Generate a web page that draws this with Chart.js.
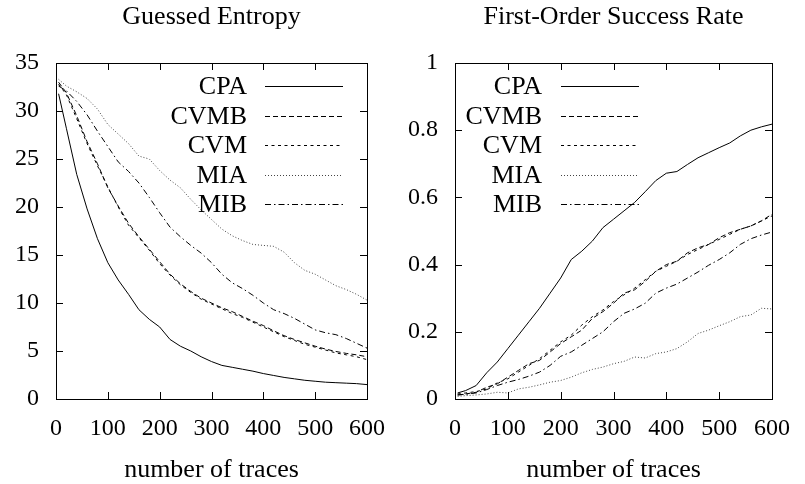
<!DOCTYPE html>
<html>
<head>
<meta charset="utf-8">
<script src="https://cdn.jsdelivr.net/npm/chart.js@4.4.1/dist/chart.umd.min.js"></script>
<style>
body { margin: 0; background: #fff; }
#wrap { position: relative; width: 805px; height: 484px; }
canvas { position: absolute; top: 0; }
</style>
</head>
<body>
<div id="wrap">
  <canvas id="entropyChart" width="400" height="484" style="left:0;width:400px;height:484px"></canvas>
  <canvas id="successChart" width="405" height="484" style="left:400px;width:405px;height:484px"></canvas>
</div>
<script>
// number of traces (x values shared by every curve)
const traces = [5, 20, 40, 60, 80, 100, 120, 140, 160, 180, 200, 220, 240, 260, 280, 300,
                320, 340, 360, 380, 400, 420, 440, 460, 480, 500, 520, 540, 560, 580, 600];

const methods = ['CPA', 'CVMB', 'CVM', 'MIA', 'MIB'];

// Guessed Entropy
const geCPA  = [31.8, 28.2, 23.4, 19.8, 16.7, 14.2, 12.4, 10.9, 9.3, 8.3, 7.5, 6.2, 5.5, 5.0, 4.4, 3.9,
                3.5, 3.3, 3.1, 2.9, 2.65, 2.45, 2.25, 2.1, 1.95, 1.85, 1.75, 1.7, 1.65, 1.6, 1.5];
const geCVMB = [33.0, 31.9, 29.5, 26.8, 24.5, 22.0, 20.1, 18.3, 16.9, 15.6, 14.3, 13.0, 12.0, 11.2, 10.5, 10.0,
                9.5, 9.1, 8.6, 8.1, 7.65, 7.1, 6.6, 6.2, 5.85, 5.5, 5.2, 4.95, 4.75, 4.6, 4.4];
const geCVM  = [32.8, 31.7, 29.2, 26.6, 24.3, 22.1, 20.0, 18.1, 16.8, 15.5, 14.1, 12.9, 11.9, 11.1, 10.4, 9.9,
                9.4, 8.9, 8.5, 8.0, 7.5, 7.0, 6.5, 6.1, 5.7, 5.4, 5.1, 4.8, 4.6, 4.4, 4.1];
const geMIA  = [33.3, 32.6, 32.0, 31.3, 30.2, 28.6, 27.6, 26.6, 25.3, 25.0, 23.8, 22.8, 22.0, 20.8, 19.7, 18.7,
                17.7, 17.0, 16.5, 16.1, 16.0, 15.9, 15.3, 14.2, 13.4, 13.0, 12.4, 11.8, 11.4, 10.9, 10.3];
const geMIB  = [32.6, 32.1, 31.0, 29.6, 27.9, 26.3, 24.7, 23.7, 22.5, 21.0, 19.4, 17.9, 16.9, 16.0, 15.2, 14.2,
                13.0, 12.1, 11.5, 10.8, 10.0, 9.3, 8.9, 8.4, 7.8, 7.2, 6.9, 6.7, 6.3, 5.8, 5.3];

// First-Order Success Rate
const srCPA  = [0.018, 0.025, 0.04, 0.078, 0.11, 0.15, 0.19, 0.23, 0.27, 0.315, 0.36, 0.415, 0.44, 0.47, 0.51, 0.535,
                0.56, 0.585, 0.617, 0.65, 0.672, 0.677, 0.698, 0.718, 0.733, 0.748, 0.762, 0.783, 0.80, 0.81, 0.818];
const srCVMB = [0.012, 0.015, 0.02, 0.035, 0.045, 0.065, 0.085, 0.105, 0.115, 0.14, 0.165, 0.185, 0.205, 0.24, 0.26, 0.285,
                0.315, 0.325, 0.35, 0.38, 0.40, 0.41, 0.435, 0.45, 0.46, 0.48, 0.495, 0.505, 0.515, 0.53, 0.55];
const srCVM  = [0.015, 0.018, 0.022, 0.03, 0.048, 0.06, 0.08, 0.10, 0.12, 0.145, 0.17, 0.19, 0.22, 0.245, 0.265, 0.29,
                0.31, 0.33, 0.355, 0.38, 0.395, 0.41, 0.43, 0.445, 0.46, 0.475, 0.49, 0.505, 0.515, 0.53, 0.545];
const srMIA  = [0.008, 0.01, 0.012, 0.015, 0.02, 0.018, 0.03, 0.035, 0.042, 0.05, 0.055, 0.065, 0.078, 0.088, 0.095, 0.105,
                0.112, 0.125, 0.122, 0.135, 0.14, 0.15, 0.17, 0.195, 0.205, 0.218, 0.23, 0.245, 0.25, 0.27, 0.268];
const srMIB  = [0.012, 0.014, 0.018, 0.028, 0.04, 0.05, 0.058, 0.068, 0.08, 0.10, 0.127, 0.14, 0.16, 0.18, 0.20, 0.23,
                0.255, 0.268, 0.285, 0.315, 0.33, 0.342, 0.36, 0.378, 0.398, 0.415, 0.435, 0.46, 0.477, 0.488, 0.497];

const FONT = '"Liberation Serif", "Times New Roman", serif';
const dashes = [[], [5, 3], [3, 3.5], [1, 2], [6, 3, 1.5, 3]];

// panel title, frame, inward mirrored ticks and the gnuplot-style key
const frameKey = {
    id: 'frameKey',
    afterDatasetsDraw(chart, args, opts) {
        const ctx = chart.ctx;
        const a = chart.chartArea;
        const sx = chart.scales.x, sy = chart.scales.y;
        ctx.save();
        ctx.fillStyle = '#000';
        ctx.font = '26px ' + FONT;
        ctx.textAlign = 'center';
        ctx.textBaseline = 'middle';
        ctx.fillText(opts.title, (a.left + a.right) / 2, 17);

        ctx.strokeStyle = '#000';
        ctx.lineWidth = 1;
        ctx.beginPath();
        sx.ticks.forEach(t => {
            const px = Math.round(sx.getPixelForValue(t.value)) + 0.5;
            ctx.moveTo(px, a.bottom); ctx.lineTo(px, a.bottom - 7);
            ctx.moveTo(px, a.top); ctx.lineTo(px, a.top + 7);
        });
        sy.ticks.forEach(t => {
            const py = Math.round(sy.getPixelForValue(t.value)) + 0.5;
            ctx.moveTo(a.left, py); ctx.lineTo(a.left + 7, py);
            ctx.moveTo(a.right, py); ctx.lineTo(a.right - 7, py);
        });
        ctx.stroke();
        ctx.strokeRect(Math.round(a.left) + 0.5, Math.round(a.top) + 0.5,
                       Math.round(a.right - a.left), Math.round(a.bottom - a.top));

        ctx.font = '26px ' + FONT;
        ctx.textAlign = 'right';
        chart.data.datasets.forEach((ds, i) => {
            const y = Math.round(a.top + opts.top + i * opts.step) + 0.5;
            ctx.fillStyle = '#000';
            ctx.fillText(ds.label, a.left + opts.textRight, y + 1);
            ctx.setLineDash(ds.borderDash);
            ctx.strokeStyle = ds.borderColor;
            ctx.lineWidth = ds.borderWidth;
            ctx.beginPath();
            ctx.moveTo(a.left + opts.lineStart, y);
            ctx.lineTo(a.left + opts.lineEnd, y);
            ctx.stroke();
        });
        ctx.restore();
    }
};

function makeChart(id, series, yMax, yStep, yWidth, padRight, key) {
    const datasets = series.map((vals, i) => ({
        label: methods[i],
        data: traces.map((x, j) => ({ x: x, y: vals[j] })),
        borderColor: i === 3 ? '#444' : '#000',
        borderWidth: 1,
        borderDash: dashes[i],
        pointRadius: 0,
        tension: 0,
        fill: false
    }));
    return new Chart(document.getElementById(id), {
        type: 'line',
        data: { datasets: datasets },
        options: {
            responsive: false,
            animation: false,
            layout: { padding: { left: 0, right: padRight, top: 63, bottom: 0 } },
            plugins: {
                legend: { display: false },
                tooltip: { enabled: false },
                title: { display: false },
                frameKey: key
            },
            scales: {
                x: {
                    type: 'linear',
                    min: 0, max: 600,
                    grid: { display: false, drawTicks: false },
                    border: { display: false },
                    afterFit: s => { s.height = 85; },
                    ticks: {
                        stepSize: 100, padding: 15, color: '#000', maxRotation: 0,
                        font: { family: FONT, size: 24, lineHeight: 1.2 }
                    },
                    title: {
                        display: true, text: 'number of traces', color: '#000',
                        font: { family: FONT, size: 26, lineHeight: 1.2 },
                        padding: { top: 0, bottom: -2 }
                    }
                },
                y: {
                    min: 0, max: yMax,
                    grid: { display: false, drawTicks: false },
                    border: { display: false },
                    afterFit: s => { s.width = yWidth; },
                    ticks: {
                        stepSize: yStep, padding: 17, color: '#000',
                        font: { family: FONT, size: 24, lineHeight: 1.2 },
                        callback: v => String(Number(v.toFixed(2)))
                    }
                }
            }
        },
        plugins: [frameKey]
    });
}

makeChart('entropyChart', [geCPA, geCVMB, geCVM, geMIA, geMIB], 35, 5, 56, 21,
          { title: 'Guessed Entropy', textRight: 191, lineStart: 209, lineEnd: 287, top: 23, step: 29.5 });
makeChart('successChart', [srCPA, srCVMB, srCVM, srMIA, srMIB], 1, 0.2, 55, 27,
          { title: 'First-Order Success Rate', textRight: 87, lineStart: 106, lineEnd: 184, top: 23, step: 29.5 });
</script>
</body>
</html>
